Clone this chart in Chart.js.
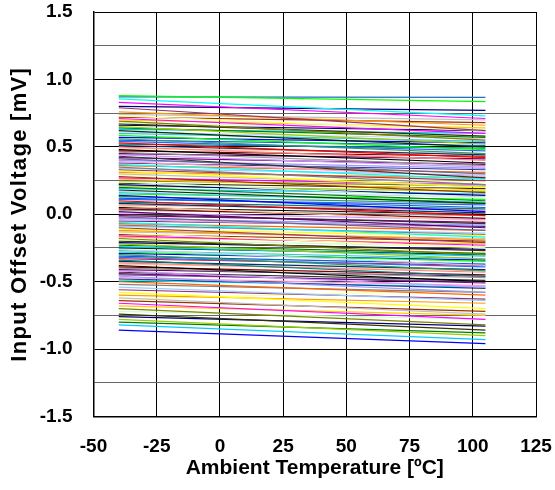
<!DOCTYPE html>
<html>
<head>
<meta charset="utf-8">
<script src="https://cdn.jsdelivr.net/npm/chart.js@4/dist/chart.umd.min.js"></script>
<style>
html,body{margin:0;padding:0;background:#fff;}
#wrap{width:555px;height:490px;position:relative;}
</style>
</head>
<body>
<div id="wrap"><canvas id="c" width="555" height="490"></canvas></div>
<script>
// Temperatures at which each unit was measured (°C)
const temps = [-40, 105];
// Input offset voltage (mV) of each unit at -40 °C
const vAtMinus40 = [
 0.88,0.87,0.855,0.83,0.80,0.79,0.76,0.74,0.73,0.72,0.71,0.70,0.69,0.68,0.67,0.66,0.65,0.64,0.63,0.62,
 0.61,0.60,0.585,0.57,0.56,0.55,0.54,0.53,0.52,0.51,0.50,0.49,0.48,0.47,0.46,0.45,0.44,0.43,0.42,0.41,
 0.40,0.39,0.38,0.37,0.36,0.35,0.34,0.33,0.32,0.31,0.30,0.29,0.28,0.27,0.26,0.25,0.24,0.23,0.22,0.21,
 0.20,0.19,0.18,0.17,0.16,0.15,0.14,0.13,0.12,0.11,0.10,0.09,0.08,0.07,0.06,0.05,0.04,0.03,0.02,0.01,
 0.00,-0.01,-0.02,-0.03,-0.04,-0.05,-0.06,-0.07,-0.08,-0.09,-0.10,-0.11,-0.12,-0.13,-0.14,-0.15,-0.16,-0.17,-0.18,-0.19,
 -0.20,-0.21,-0.22,-0.23,-0.24,-0.25,-0.26,-0.27,-0.28,-0.29,-0.30,-0.31,-0.32,-0.33,-0.34,-0.35,-0.36,-0.37,-0.38,-0.39,
 -0.40,-0.41,-0.42,-0.43,-0.44,-0.45,-0.46,-0.47,-0.48,-0.49,-0.50,-0.52,-0.54,-0.56,-0.58,-0.60,-0.62,-0.63,-0.64,-0.66,
 -0.68,-0.70,-0.72,-0.74,-0.76,-0.78,-0.80,-0.82,-0.86
];
// Input offset voltage (mV) of each unit at 105 °C
const vAt105 = [
 0.835,0.867,0.73,0.71,0.77,0.62,0.66,0.70,0.62,0.68,0.60,0.64,0.55,0.63,0.58,0.62,0.52,0.57,0.60,0.50,
 0.56,0.54,0.48,0.53,0.45,0.51,0.47,0.42,0.49,0.44,0.40,0.45,0.38,0.43,0.36,0.41,0.35,0.27,0.37,0.30,
 0.34,0.28,0.33,0.26,0.31,0.22,0.29,0.25,0.20,0.27,0.21,0.24,0.16,0.22,0.18,0.21,0.12,0.19,0.14,0.17,
 0.10,0.15,0.08,0.13,0.09,0.11,0.02,0.08,0.05,0.07,-0.01,0.04,0.01,0.03,-0.05,0.00,-0.03,-0.01,-0.10,-0.04,
 -0.07,-0.06,-0.12,-0.08,-0.10,-0.09,-0.17,-0.12,-0.15,-0.14,-0.21,-0.16,-0.19,-0.18,-0.25,-0.20,-0.23,-0.22,-0.30,-0.24,
 -0.27,-0.26,-0.33,-0.29,-0.31,-0.30,-0.38,-0.33,-0.35,-0.34,-0.42,-0.37,-0.39,-0.38,-0.46,-0.41,-0.43,-0.42,-0.50,-0.45,
 -0.47,-0.46,-0.54,-0.49,-0.51,-0.50,-0.58,-0.53,-0.55,-0.54,-0.60,-0.58,-0.64,-0.63,-0.70,-0.66,-0.74,-0.56,-0.72,-0.78,
 -0.75,-0.82,-0.78,-0.86,-0.83,-0.90,-0.88,-0.93,-0.96
];
// Axis tick values
const xTicks = [-50, -25, 0, 25, 50, 75, 100, 125];
const yTickLabels = [-1.5, -1.0, -0.5, 0.0, 0.5, 1.0, 1.5];
const yTitle = 'Input Offset Voltage [mV]';
const xTitle = 'Ambient Temperature [ºC]';

const palette = ['#000080','#FF00FF','#FFFF00','#00FFFF','#800080','#800000','#008080','#0000FF',
 '#00CCFF','#CCFFCC','#FFFF99','#99CCFF','#FF99CC','#CC99FF','#FFCC99','#3366FF','#33CCCC','#99CC00',
 '#FFCC00','#FF9900','#FF6600','#666699','#969696','#003366','#339966','#003300','#333300','#993300',
 '#993366','#333399','#333333','#000000','#FF0000','#00FF00','#008000','#808000','#C0C0C0','#808080',
 '#9999FF','#660066','#FF8080','#0066CC','#CCCCFF'];

const datasets = vAtMinus40.map((a, i) => ({
  data: [{x: temps[0], y: a}, {x: temps[1], y: vAt105[i]}],
  borderColor: palette[(i * 17 + 3) % palette.length],
  borderWidth: 1.2,
  pointRadius: 0,
  fill: false,
  tension: 0
}));
// specific top lines
datasets[0].borderColor = '#00FF00';
datasets[1].borderColor = '#1F6FBF';
datasets[2].borderColor = '#00FFFF';
datasets[3].borderColor = '#FF00FF';
datasets[4].borderColor = '#000080';
datasets[5].borderColor = '#993366';
datasets[datasets.length-1].borderColor = '#0000FF';

const fam = '"Liberation Sans", Arial, sans-serif';
const font = {family: fam, weight: 'bold'};
const isMajor = v => Math.abs(v * 2 - Math.round(v * 2)) < 1e-9;

const yTitlePlugin = {
  id: 'yTitle',
  afterDraw(chart) {
    const {ctx, chartArea} = chart;
    ctx.save();
    ctx.translate(20, (chartArea.top + chartArea.bottom) / 2);
    ctx.rotate(-Math.PI / 2);
    ctx.font = 'bold 22px ' + fam;
    try { ctx.letterSpacing = '1.3px'; } catch (e) {}
    ctx.fillStyle = '#000';
    ctx.textAlign = 'center';
    ctx.textBaseline = 'middle';
    ctx.fillText(yTitle, 0, 0);
    ctx.restore();
  }
};

new Chart(document.getElementById('c'), {
  type: 'line',
  data: {datasets},
  plugins: [yTitlePlugin],
  options: {
    responsive: false,
    animation: false,
    events: [],
    layout: {padding: {top: 12, right: 19, left: 0, bottom: 0}},
    plugins: {legend: {display: false}, tooltip: {enabled: false}},
    scales: {
      x: {
        type: 'linear', min: -50, max: 125,
        afterBuildTicks: s => { s.ticks = xTicks.map(v => ({value: v})); },
        afterFit: s => { s.height = 73.5; },
        ticks: {padding: 0, color: '#000', font: {...font, size: 19}, maxRotation: 0,
                callback: v => String(v)},
        grid: {color: '#000', lineWidth: 1, drawTicks: true, tickLength: 19, tickColor: 'rgba(0,0,0,0)'},
        border: {color: '#000', width: 1.5},
        title: {display: true, text: xTitle, color: '#000',
                font: {...font, size: 21}, padding: {top: 0, bottom: 9}}
      },
      y: {
        type: 'linear', min: -1.5, max: 1.5,
        ticks: {stepSize: 0.25, padding: 0, color: '#000', font: {...font, size: 19},
                callback: v => (isMajor(v) && yTickLabels.some(t => Math.abs(t - v) < 1e-9)) ? v.toFixed(1) : ''},
        afterFit: s => { s.width = 93.5; },
        grid: {color: c => isMajor(c.tick.value) ? '#000' : '#666', lineWidth: 1,
               drawTicks: true, tickLength: 21, tickColor: 'rgba(0,0,0,0)'},
        border: {color: '#000', width: 1.5},
        title: {display: false}
      }
    }
  }
});
</script>
</body>
</html>
